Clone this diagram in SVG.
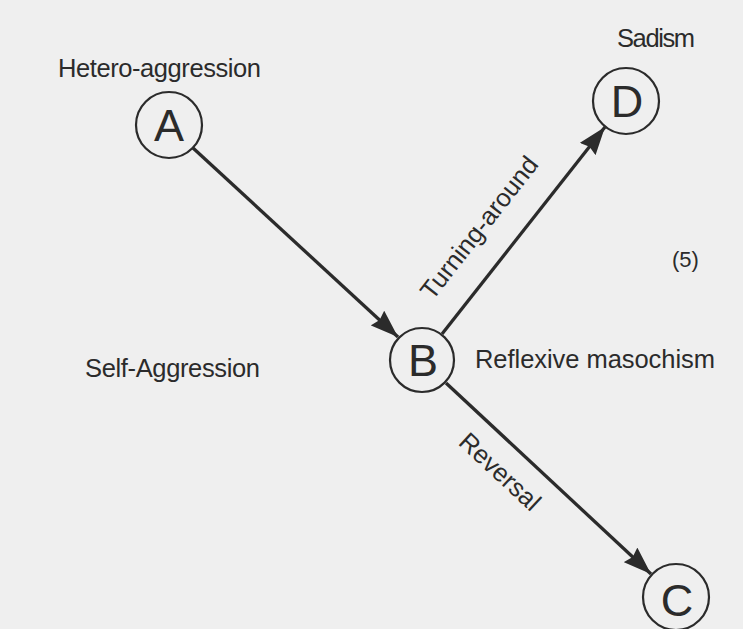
<svg xmlns="http://www.w3.org/2000/svg" width="743" height="629" viewBox="0 0 743 629">
<defs>
<style>
text{font-family:"Liberation Sans",Arial,Helvetica,sans-serif;fill:#2b2b2b}
.lbl{font-size:25.5px}
.let{font-size:45px;text-anchor:middle}
.node{fill:none;stroke:#2b2b2b;stroke-width:2.2}
.edge{stroke:#2b2b2b;stroke-width:3.3;fill:none}
</style>
<marker id="ah" markerUnits="userSpaceOnUse" viewBox="0 0 28 20" refX="28" refY="10" markerWidth="28" markerHeight="20" orient="auto">
<path d="M0,0 L28,10 L0,20 L3,10 Z" fill="#2b2b2b"/>
</marker>
</defs>
<rect width="743" height="629" fill="#efefef"/>
<g id="connectors">
<line class="edge" x1="193" y1="148" x2="398" y2="337" marker-end="url(#ah)"/>
<line class="edge" x1="442" y1="334" x2="605" y2="127" marker-end="url(#ah)"/>
<line class="edge" x1="446" y1="383" x2="651" y2="574" marker-end="url(#ah)"/>
<text class="lbl" transform="translate(486,233) rotate(-51.8)" text-anchor="middle">Turning-around</text>
<text class="lbl" transform="translate(494,478) rotate(43)" text-anchor="middle">Reversal</text>
</g>
<g id="nodeA">
<circle class="node" cx="169" cy="125" r="33"/>
<text class="let" x="169" y="141">A</text>
<text class="lbl" x="58" y="77" textLength="203">Hetero-aggression</text>
</g>
<g id="nodeB">
<circle class="node" cx="422" cy="360" r="32"/>
<text class="let" x="423" y="376">B</text>
<text class="lbl" x="85" y="377" textLength="175">Self-Aggression</text>
<text class="lbl" x="475" y="368" textLength="240">Reflexive masochism</text>
</g>
<g id="nodeD">
<circle class="node" cx="626" cy="101" r="33"/>
<text class="let" x="627" y="117">D</text>
<text class="lbl" x="617" y="47" textLength="78">Sadism</text>
</g>
<g id="nodeC">
<circle class="node" cx="676" cy="597" r="33"/>
<text class="let" x="677" y="616">C</text>
</g>
<text class="lbl" x="672" y="267" style="font-size:22px">(5)</text>
</svg>
